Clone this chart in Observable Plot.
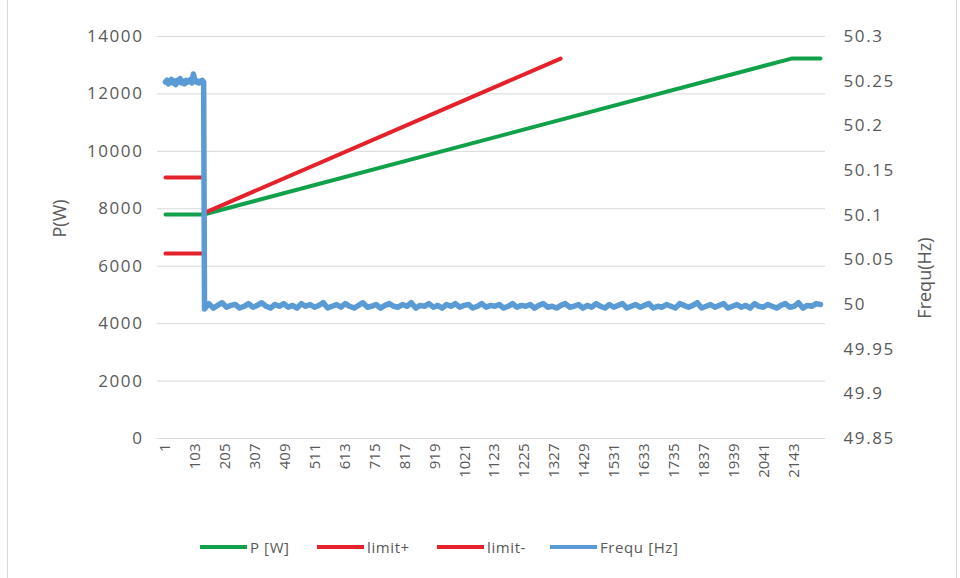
<!DOCTYPE html>
<html>
<head>
<meta charset="utf-8">
<script src="https://cdn.jsdelivr.net/npm/d3@7"></script>
<script src="https://cdn.jsdelivr.net/npm/@observablehq/plot@0.6"></script>
<style>
  body { margin: 0; background: #fff; }
  #wrap { position: relative; width: 960px; height: 578px; font-family: "Open Sans", sans-serif; color: #595959; overflow: hidden; background: #fff; }
  #frame { position: absolute; left: 7px; top: -2px; width: 950px; height: 582px; border-left: 1px solid #d9d9d9; border-right: 1px solid #d9d9d9; box-sizing: border-box; pointer-events: none; }
  #chart { position: absolute; left: 0; top: 0; }
  #legend { position: absolute; left: 0; top: 536px; width: 960px; height: 22px; font-size: 15px; letter-spacing: 0.6px; }
  .item { position: absolute; top: 0; display: flex; align-items: center; height: 22px; white-space: nowrap; }
  .sw { width: 47px; height: 4px; margin-right: 3px; }
  svg [aria-label="y-axis tick label"] text { letter-spacing: 1.6px; }
</style>
</head>
<body>
<div id="wrap">
  <div id="chart"></div>
  <div id="legend"></div>
  <div id="frame"></div>
</div>
<script>
// ---- data ----
const SERIES_NAMES = ["P [W]", "limit+", "limit-", "Frequ [Hz]"];
const SERIES_COLORS = ["#12a14b", "#e3222b", "#e3222b", "#5b9bd5"];

const P_TICKS = [0, 2000, 4000, 6000, 8000, 10000, 12000, 14000];
const FREQ_TICKS = [49.85, 49.9, 49.95, 50, 50.05, 50.1, 50.15, 50.2, 50.25, 50.3];
const X_TICKS = [1, 103, 205, 307, 409, 511, 613, 715, 817, 919, 1021, 1123, 1225, 1327, 1429, 1531, 1633, 1735, 1837, 1939, 2041, 2143];
const N_SAMPLES = 2234;

// P [W]: sample number / value
const P_IDX = [1, 131, 2135, 2234];
const P_VAL = [7800, 7800, 13230, 13230];

// limit+: flat, break, then ramp
const LIMP_IDX = [1, 131, 131, 132, 1348];
const LIMP_VAL = [9090, 9090, null, 7850, 13230];

// limit-: flat only
const LIMM_IDX = [1, 131];
const LIMM_VAL = [6440, 6440];

// Frequ [Hz]: readings every 5 samples from sample 1 (before step)
const FREQ_HEAD = [50.249, 50.251, 50.247, 50.250, 50.252, 50.248, 50.250, 50.246, 50.251, 50.249,
  50.253, 50.248, 50.250, 50.247, 50.251, 50.249, 50.250, 50.252, 50.248, 50.258,
  50.251, 50.249, 50.250, 50.248, 50.250, 50.251, 50.249];
// readings every 15 samples from sample 134 (after step)
const FREQ_TAIL = [49.995, 50.001, 49.996, 49.999, 50.002, 49.997, 49.999, 50.000, 49.996, 49.998,
  50.001, 49.997, 49.999, 50.002, 49.998, 49.996, 50.000, 49.998, 50.001, 49.997,
  49.999, 49.996, 50.001, 49.998, 50.000, 49.997, 49.999, 50.002, 49.996, 49.998,
  50.000, 49.997, 50.001, 49.998, 49.996, 49.999, 50.002, 49.997, 49.998, 50.000,
  49.996, 49.999, 50.001, 49.998, 49.997, 50.000, 49.998, 50.002, 49.996, 49.999,
  49.998, 50.001, 49.997, 49.999, 49.996, 50.000, 49.998, 50.001, 49.997, 49.999,
  50.000, 49.996, 49.998, 50.001, 49.997, 49.999, 49.998, 50.000, 49.996, 49.998,
  50.001, 49.997, 49.999, 49.998, 50.000, 49.996, 49.999, 50.001, 49.997, 49.998,
  49.996, 49.999, 50.001, 49.997, 49.998, 50.000, 49.996, 49.999, 49.997, 50.001,
  49.998, 49.996, 50.000, 49.997, 49.999, 50.001, 49.996, 49.998, 50.000, 49.997,
  49.999, 50.001, 49.996, 49.998, 49.997, 50.000, 49.998, 49.996, 50.001, 49.999,
  49.997, 49.999, 50.002, 49.996, 49.998, 50.000, 49.997, 49.999, 50.001, 49.996,
  49.998, 50.000, 49.997, 49.999, 49.996, 50.001, 49.998, 49.997, 50.000, 49.998,
  49.996, 49.999, 50.001, 49.997, 49.998, 50.002, 49.996, 49.999, 49.998, 50.001,
  50.000];
const FREQ_HEAD_START = 1, FREQ_HEAD_STEP = 5;
const FREQ_TAIL_START = 134, FREQ_TAIL_STEP = 15;

const Y_TITLE_LEFT = "P(W)";
const Y_TITLE_RIGHT = "Frequ(Hz)";

// ---- secondary axis mapping (frequency -> primary scale) ----
const P_MAX = 14000, F_MIN = 49.85, F_MAX = 50.3;
const toP = f => Math.round(((f - F_MIN) / (F_MAX - F_MIN)) * P_MAX * 1e6) / 1e6;
const toF = p => F_MIN + (p / P_MAX) * (F_MAX - F_MIN);

const zip = (xs, ys) => xs.map((x, i) => ({x, y: ys[i] == null ? NaN : ys[i]}));
const pData = zip(P_IDX, P_VAL);
const limPData = zip(LIMP_IDX, LIMP_VAL);
const limMData = zip(LIMM_IDX, LIMM_VAL);
const freqData = [
  ...FREQ_HEAD.map((f, i) => ({x: FREQ_HEAD_START + i * FREQ_HEAD_STEP, y: toP(f)})),
  ...FREQ_TAIL.map((f, i) => ({x: FREQ_TAIL_START + i * FREQ_TAIL_STEP, y: toP(f)}))
];

const plot = Plot.plot({
  width: 960,
  height: 500,
  marginTop: 36,
  marginBottom: 62,
  marginLeft: 157,
  marginRight: 135,
  style: {fontFamily: '"Open Sans", sans-serif', fontSize: "17px", color: "#595959", background: "transparent"},
  x: {domain: [1, N_SAMPLES], insetLeft: 8, insetRight: 5},
  y: {domain: [0, P_MAX]},
  marks: [
    Plot.gridY(P_TICKS, {stroke: "#d9d9d9", strokeOpacity: 1, strokeWidth: 1}),
    Plot.ruleY([0], {stroke: "#d9d9d9", strokeWidth: 1}),
    Plot.axisY(P_TICKS, {anchor: "left", tickSize: 0, tickPadding: 14, label: null, tickFormat: d => String(d)}),
    Plot.axisY(FREQ_TICKS.map(toP), {anchor: "right", tickSize: 0, tickPadding: 18, label: null,
      tickFormat: p => String(+toF(p).toFixed(2))}),
    Plot.axisX(X_TICKS, {anchor: "bottom", tickSize: 0, tickPadding: 5, tickRotate: -90, label: null,
      fontSize: 15, tickFormat: d => String(d)}),
    Plot.line(pData, {x: "x", y: "y", stroke: SERIES_COLORS[0], strokeWidth: 4}),
    Plot.line(limPData, {x: "x", y: "y", stroke: SERIES_COLORS[1], strokeWidth: 4}),
    Plot.line(limMData, {x: "x", y: "y", stroke: SERIES_COLORS[2], strokeWidth: 4}),
    Plot.line(freqData, {x: "x", y: "y", stroke: SERIES_COLORS[3], strokeWidth: 5.5, strokeLinejoin: "round"}),
    Plot.text([Y_TITLE_LEFT], {text: d => d, frameAnchor: "left", dx: -97, rotate: -90, fontSize: 18, fill: "#595959"}),
    Plot.text([Y_TITLE_RIGHT], {text: d => d, frameAnchor: "right", dx: 100, rotate: -90, fontSize: 18, fill: "#595959"})
  ]
});
document.getElementById("chart").appendChild(plot);

// ---- legend ----
const LEGEND_LEFT = [200, 317, 437, 550];
const legend = document.getElementById("legend");
SERIES_NAMES.forEach((name, i) => {
  const item = document.createElement("div");
  item.className = "item";
  item.style.left = LEGEND_LEFT[i] + "px";
  const sw = document.createElement("div");
  sw.className = "sw";
  sw.style.background = SERIES_COLORS[i];
  const t = document.createElement("span");
  t.textContent = name;
  item.appendChild(sw);
  item.appendChild(t);
  legend.appendChild(item);
});
</script>
</body>
</html>
